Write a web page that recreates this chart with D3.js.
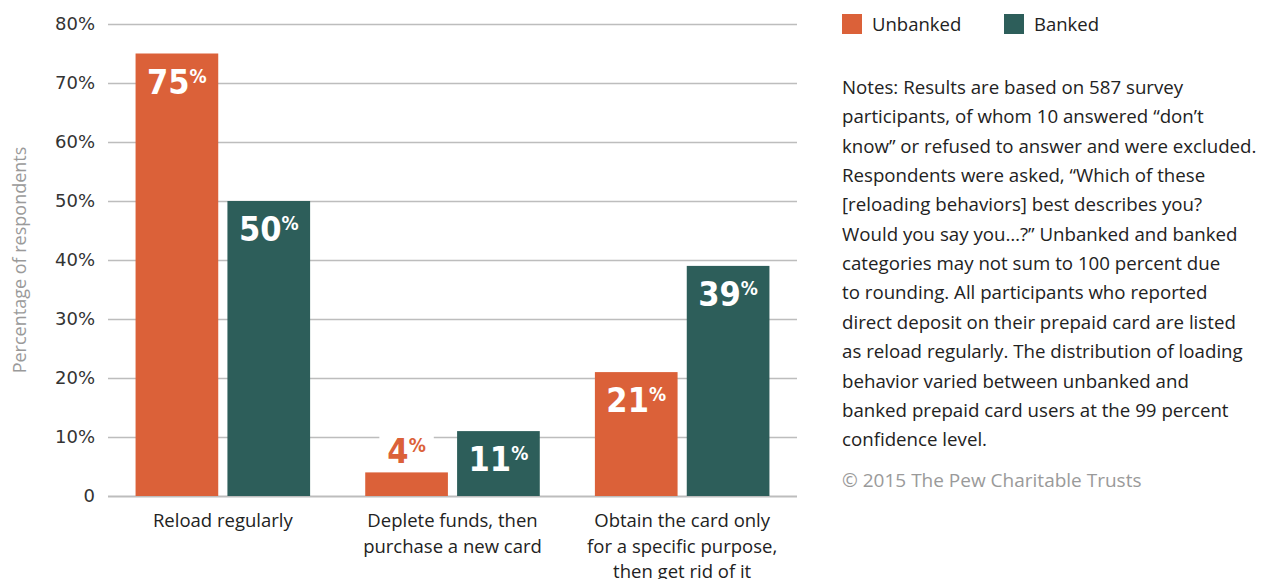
<!DOCTYPE html>
<html>
<head>
<meta charset="utf-8">
<script src="https://cdn.jsdelivr.net/npm/d3@7"></script>
<style>
  body { margin: 0; background: #fff; }
  svg { display: block; }
  .tick text { font-family: "DejaVu Sans", sans-serif; font-size: 18px; fill: #333; }
  .tick line { stroke: #bdbdbd; stroke-width: 1.5; }
  .catlabel { font-family: "Open Sans", sans-serif; font-size: 18.5px; fill: #222; }
  .ytitle { font-family: "Open Sans", sans-serif; font-size: 18px; fill: #9a9a9a; }
  .legendtext { font-family: "Open Sans", sans-serif; font-size: 18.5px; fill: #222; }
  .notes { font-family: "Open Sans", sans-serif; font-size: 18.7px; fill: #222; }
  .copy { font-family: "Open Sans", sans-serif; font-size: 19px; fill: #9a9a9a; }
  .vlabel { font-family: "DejaVu Sans Condensed", "DejaVu Sans", sans-serif; font-weight: bold; font-size: 34px; }
</style>
</head>
<body>
<svg id="chart" width="1267" height="579"></svg>
<script>
// data
var categories = ["Reload regularly", "Deplete funds, then purchase a new card", "Obtain the card only for a specific purpose, then get rid of it"];
var catLines   = [["Reload regularly"], ["Deplete funds, then", "purchase a new card"], ["Obtain the card only", "for a specific purpose,", "then get rid of it"]];
var series     = ["Unbanked", "Banked"];
var unbanked   = [75, 4, 21];
var banked     = [50, 11, 39];
var yTicks     = [0, 10, 20, 30, 40, 50, 60, 70, 80];
var colors     = { "Unbanked": "#db6139", "Banked": "#2d5e5a" };

var notesLines = [
    "Notes: Results are based on 587 survey",
    "participants, of whom 10 answered \u201cdon\u2019t",
    "know\u201d or refused to answer and were excluded.",
    "Respondents were asked, \u201cWhich of these",
    "[reloading behaviors] best describes you?",
    "Would you say you\u2026?\u201d Unbanked and banked",
    "categories may not sum to 100 percent due",
    "to rounding. All participants who reported",
    "direct deposit on their prepaid card are listed",
    "as reload regularly. The distribution of loading",
    "behavior varied between unbanked and",
    "banked prepaid card users at the 99 percent",
    "confidence level."
];

var svg = d3.select("#chart");

var pLeft = 108, pRight = 797, pTop = 24, pBottom = 496;

var y = d3.scaleLinear().domain([0, 80]).range([pBottom, pTop]);
var x0 = d3.scaleBand().domain(categories).range([pLeft, pRight])
    .paddingInner(0.24).paddingOuter(0.12);
var x1 = d3.scaleBand().domain(series).range([0, x0.bandwidth()]).paddingInner(0.1);

// gridlines + tick labels
var yAxis = svg.append("g")
    .attr("transform", "translate(" + pLeft + ",0)")
    .call(d3.axisLeft(y)
        .tickValues(yTicks)
        .tickSizeInner(-(pRight - pLeft))
        .tickSizeOuter(0)
        .tickPadding(13)
        .tickFormat(function(d) { return d === 0 ? "0" : d + "%"; }));
yAxis.select(".domain").remove();
yAxis.selectAll(".tick").filter(function(d) { return d === 0; }).select("line")
    .attr("stroke", "#aaa").style("stroke-width", 2);

// y title
svg.append("text")
    .attr("class", "ytitle")
    .attr("transform", "translate(26," + ((pTop + pBottom) / 2) + ") rotate(-90)")
    .attr("text-anchor", "middle")
    .text("Percentage of respondents");

// bars
var rows = categories.map(function(c, i) {
    return [ { cat: c, s: "Unbanked", v: unbanked[i] }, { cat: c, s: "Banked", v: banked[i] } ];
});

var groups = svg.selectAll(".grp")
    .data(rows)
    .enter().append("g")
        .attr("class", "grp")
        .attr("transform", function(d) { return "translate(" + x0(d[0].cat) + ",0)"; });

groups.selectAll("rect")
    .data(function(d) { return d; })
    .enter().append("rect")
        .attr("x",      function(d) { return x1(d.s); })
        .attr("y",      function(d) { return y(d.v); })
        .attr("width",  x1.bandwidth())
        .attr("height", function(d) { return pBottom - y(d.v); })
        .attr("fill",   function(d) { return colors[d.s]; });

// value labels (inside bar if tall enough, otherwise above it)
groups.each(function(d) {
    var g = d3.select(this);
    d.forEach(function(b) {
        var inside = (pBottom - y(b.v)) > 50;
        var cx = x1(b.s) + x1.bandwidth() / 2;
        var by = inside ? y(b.v) + 40 : y(b.v) - 9;
        var bg = g.append("rect").attr("fill", "#fff");
        var t = g.append("text")
            .attr("class", "vlabel")
            .attr("x", cx)
            .attr("y", by)
            .attr("text-anchor", "middle")
            .attr("fill", inside ? "#fff" : colors[b.s]);
        t.append("tspan").text(b.v);
        t.append("tspan").attr("dy", -11).style("font-size", "19px").text("%");
        if (!inside) {
            var bb = t.node().getBBox();
            bg.attr("x", bb.x - 8).attr("y", bb.y).attr("width", bb.width + 16).attr("height", bb.height);
        } else {
            bg.remove();
        }
    });
});

// category labels
svg.selectAll(".catlabel")
    .data(categories)
    .enter().append("text")
        .attr("class", "catlabel")
        .attr("text-anchor", "middle")
        .attr("x", function(d) { return x0(d) + x0.bandwidth() / 2; })
        .attr("y", 527)
        .each(function(d, i) {
            var t = d3.select(this);
            catLines[i].forEach(function(line, j) {
                t.append("tspan")
                    .attr("x", x0(d) + x0.bandwidth() / 2)
                    .attr("dy", j === 0 ? 0 : 25.5)
                    .text(line);
            });
        });

// legend
var legend = svg.selectAll(".legend")
    .data(series)
    .enter().append("g")
        .attr("class", "legend")
        .attr("transform", function(d, i) { return "translate(" + (842 + i * 162) + ",14)"; });
legend.append("rect")
    .attr("width", 20).attr("height", 20)
    .attr("fill", function(d) { return colors[d]; });
legend.append("text")
    .attr("class", "legendtext")
    .attr("x", 30).attr("y", 17)
    .text(function(d) { return d; });

// notes
svg.append("g").selectAll("text")
    .data(notesLines)
    .enter().append("text")
        .attr("class", "notes")
        .attr("x", 842)
        .attr("y", function(d, i) { return 94 + i * 29.35; })
        .text(function(d) { return d; });

svg.append("text")
    .attr("class", "copy")
    .attr("x", 842)
    .attr("y", 487)
    .text("\u00a9 2015 The Pew Charitable Trusts");
</script>
</body>
</html>
